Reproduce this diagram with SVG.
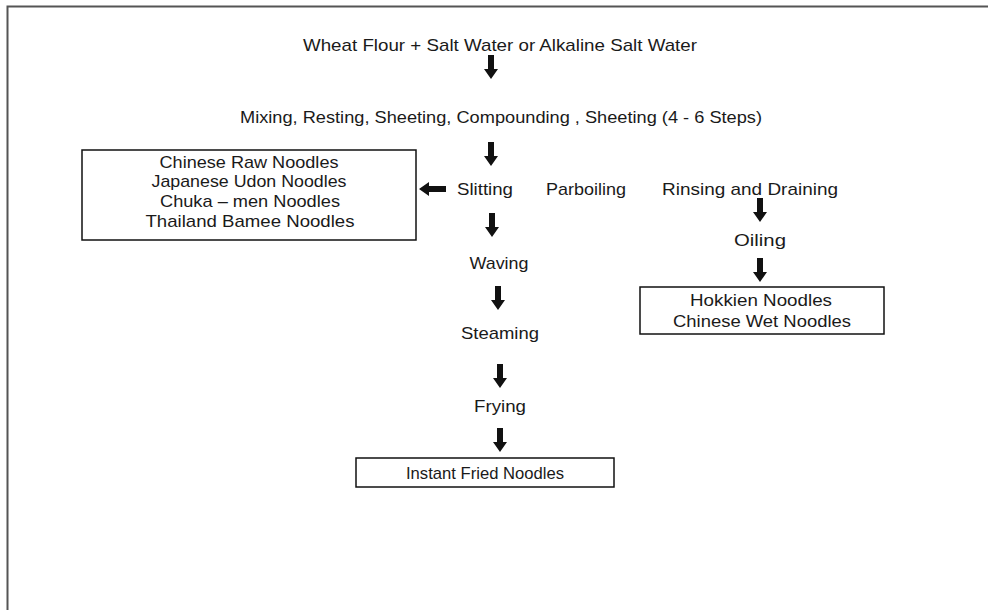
<svg xmlns="http://www.w3.org/2000/svg" xmlns:xlink="http://www.w3.org/1999/xlink" width="988" height="610" viewBox="0 0 988 610">
<style>
text{font-family:"Liberation Sans","DejaVu Sans",sans-serif;font-size:17px;fill:#1a1a1a;text-anchor:middle;dominant-baseline:central}
.s{font-size:17px}
.box{fill:#fff;stroke:#111;stroke-width:1.5}
.arr{fill:#111}
</style>
<defs>
<path id="ad" d="M-3,0 H3 V14 H7 L0,24 L-7,14 H-3 Z"/>
<path id="al" d="M0,0 L10,-7 V-3 H27 V3 H10 V7 Z"/>
</defs>
<rect width="988" height="610" fill="#fff"/>
<path d="M7.5,610 V6.5 H988" fill="none" stroke="#555" stroke-width="2"/>

<g id="n-start"><text x="500" y="45" textLength="394" lengthAdjust="spacingAndGlyphs">Wheat Flour +  Salt Water or Alkaline Salt Water</text></g>
<g id="n-mixing"><text x="501" y="117" textLength="522" lengthAdjust="spacingAndGlyphs">Mixing, Resting, Sheeting, Compounding , Sheeting (4 - 6 Steps)</text></g>
<g id="n-slitting"><text class="s" x="485" y="189" textLength="56" lengthAdjust="spacingAndGlyphs">Slitting</text></g>
<g id="n-parboiling"><text class="s" x="586" y="189" textLength="80" lengthAdjust="spacingAndGlyphs">Parboiling</text></g>
<g id="n-rinsing"><text x="750" y="189" textLength="176" lengthAdjust="spacingAndGlyphs">Rinsing  and Draining</text></g>
<g id="n-raw"><rect class="box" x="82" y="150" width="334" height="90"/>
<text x="249" y="162" textLength="179" lengthAdjust="spacingAndGlyphs">Chinese Raw Noodles</text>
<text x="249" y="181" textLength="195" lengthAdjust="spacingAndGlyphs">Japanese Udon Noodles</text>
<text x="250" y="201" textLength="180" lengthAdjust="spacingAndGlyphs">Chuka – men Noodles</text>
<text x="250" y="221" textLength="209" lengthAdjust="spacingAndGlyphs">Thailand Bamee Noodles</text></g>
<g id="n-waving"><text class="s" x="499" y="263" textLength="59" lengthAdjust="spacingAndGlyphs">Waving</text></g>
<g id="n-steaming"><text class="s" x="500" y="333" textLength="78" lengthAdjust="spacingAndGlyphs">Steaming</text></g>
<g id="n-frying"><text class="s" x="500" y="406" textLength="52" lengthAdjust="spacingAndGlyphs">Frying</text></g>
<g id="n-instant"><rect class="box" x="356" y="458" width="258" height="29"/>
<text x="485" y="473" textLength="158" lengthAdjust="spacingAndGlyphs">Instant Fried Noodles</text></g>
<g id="n-oiling"><text class="s" x="760" y="240" textLength="52" lengthAdjust="spacingAndGlyphs">Oiling</text></g>
<g id="n-hokkien"><rect class="box" x="640" y="287" width="244" height="47"/>
<text x="761" y="300" textLength="142" lengthAdjust="spacingAndGlyphs">Hokkien Noodles</text>
<text x="762" y="321" textLength="178" lengthAdjust="spacingAndGlyphs">Chinese Wet Noodles</text></g>

<g id="connectors" class="arr">
<use xlink:href="#ad" x="491" y="55"/>
<use xlink:href="#ad" x="491" y="142"/>
<use xlink:href="#ad" x="492" y="213"/>
<use xlink:href="#ad" x="498" y="286"/>
<use xlink:href="#ad" x="500" y="364"/>
<use xlink:href="#ad" x="500" y="428"/>
<use xlink:href="#ad" x="760" y="198"/>
<use xlink:href="#ad" x="760" y="258"/>
<use xlink:href="#al" x="419" y="189"/>
</g>
</svg>
